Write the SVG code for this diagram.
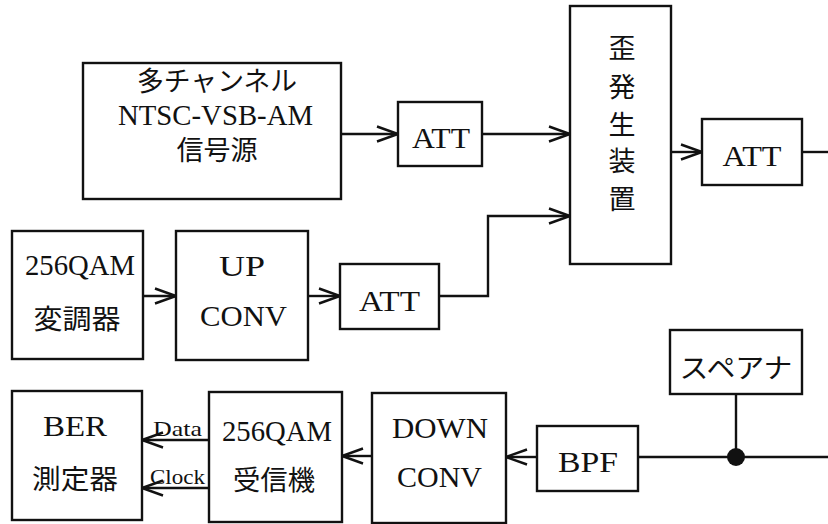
<svg xmlns="http://www.w3.org/2000/svg" width="828" height="524" viewBox="0 0 828 524">
<defs>
<marker id="arr" markerUnits="userSpaceOnUse" markerWidth="26" markerHeight="20" viewBox="-22 -10 24 20" refX="0" refY="0" orient="auto">
<path d="M-21,-7.5 L0,0 L-21,7.5" fill="none" stroke="#111" stroke-width="2.4"/>
</marker>
</defs>
<style>
rect.b{fill:#fff;stroke:#111;stroke-width:2.4}
text{fill:#111;text-anchor:middle}
.l{font-family:"Liberation Serif","Noto Sans CJK JP",serif;font-size:29px}
.j{font-family:"Noto Sans CJK JP","Liberation Serif",serif;font-size:27px}
.s{font-family:"Liberation Serif",serif;font-size:21px}
.c line,.c path{fill:none;stroke:#111;stroke-width:2.4}
</style>
<rect width="828" height="524" fill="#fff"/>
<g class="c" id="connectors">
<line x1="341" y1="134" x2="398" y2="134" marker-end="url(#arr)"/>
<line x1="482" y1="134" x2="570" y2="134" marker-end="url(#arr)"/>
<line x1="143" y1="296" x2="176" y2="296" marker-end="url(#arr)"/>
<line x1="308" y1="296" x2="340" y2="296" marker-end="url(#arr)"/>
<path d="M439,296 H488 V216 H570" marker-end="url(#arr)"/>
<line x1="671" y1="152" x2="702" y2="152" marker-end="url(#arr)"/>
<line x1="802" y1="152" x2="828" y2="152"/>
<line x1="828" y1="457" x2="638" y2="457"/>
<line x1="537" y1="457" x2="506" y2="457" marker-end="url(#arr)"/>
<line x1="372" y1="456" x2="342" y2="456" marker-end="url(#arr)"/>
<line x1="209" y1="440" x2="142" y2="440" marker-end="url(#arr)"/>
<line x1="209" y1="488" x2="142" y2="488" marker-end="url(#arr)"/>
<line x1="736" y1="394" x2="736" y2="457"/>
<circle cx="736" cy="457" r="9" fill="#111" stroke="none"/>
<text class="s" x="177.5" y="436" textLength="49" lengthAdjust="spacingAndGlyphs">Data</text>
<text class="s" x="177.5" y="484" textLength="55" lengthAdjust="spacingAndGlyphs">Clock</text>
</g>
<g id="ntsc">
<rect class="b" x="83" y="63" width="258" height="136"/>
<text class="j" x="217" y="91" textLength="160" lengthAdjust="spacingAndGlyphs">多チャンネル</text>
<text class="l" x="215.5" y="125" textLength="195" lengthAdjust="spacingAndGlyphs">NTSC-VSB-AM</text>
<text class="j" x="217" y="160">信号源</text>
</g>
<g id="att1">
<rect class="b" x="398" y="102" width="84" height="64"/>
<text class="l" x="441" y="148" textLength="58" lengthAdjust="spacingAndGlyphs">ATT</text>
</g>
<g id="distortion">
<rect class="b" x="570" y="6" width="101" height="258"/>
<text class="j" x="622" y="58">歪</text>
<text class="j" x="622" y="97">発</text>
<text class="j" x="622" y="135">生</text>
<text class="j" x="622" y="171">装</text>
<text class="j" x="622" y="209">置</text>
</g>
<g id="att4">
<rect class="b" x="702" y="119" width="100" height="66"/>
<text class="l" x="752" y="166" textLength="59" lengthAdjust="spacingAndGlyphs">ATT</text>
</g>
<g id="mod">
<rect class="b" x="12" y="231" width="131" height="128"/>
<text class="l" x="80" y="275" textLength="110" lengthAdjust="spacingAndGlyphs">256QAM</text>
<text class="j" x="77" y="329" textLength="87" lengthAdjust="spacingAndGlyphs">変調器</text>
</g>
<g id="upconv">
<rect class="b" x="176" y="231" width="132" height="129"/>
<text class="l" x="242" y="276" textLength="46" lengthAdjust="spacingAndGlyphs">UP</text>
<text class="l" x="243.5" y="326" textLength="87" lengthAdjust="spacingAndGlyphs">CONV</text>
</g>
<g id="att3">
<rect class="b" x="340" y="264" width="99" height="65"/>
<text class="l" x="389.5" y="311" textLength="61" lengthAdjust="spacingAndGlyphs">ATT</text>
</g>
<g id="spea">
<rect class="b" x="670" y="330" width="132" height="64"/>
<text class="j" x="736" y="378" textLength="113" lengthAdjust="spacingAndGlyphs">スペアナ</text>
</g>
<g id="bpf">
<rect class="b" x="537" y="426" width="101" height="65"/>
<text class="l" x="588" y="472" textLength="60" lengthAdjust="spacingAndGlyphs">BPF</text>
</g>
<g id="downconv">
<rect class="b" x="372" y="393" width="134" height="130"/>
<text class="l" x="440" y="438" textLength="96" lengthAdjust="spacingAndGlyphs">DOWN</text>
<text class="l" x="439.5" y="487" textLength="85" lengthAdjust="spacingAndGlyphs">CONV</text>
</g>
<g id="receiver">
<rect class="b" x="209" y="392" width="133" height="130"/>
<text class="l" x="277" y="441" textLength="110" lengthAdjust="spacingAndGlyphs">256QAM</text>
<text class="j" x="274" y="490" textLength="82" lengthAdjust="spacingAndGlyphs">受信機</text>
</g>
<g id="ber">
<rect class="b" x="12" y="391" width="130" height="129"/>
<text class="l" x="75" y="436" textLength="64" lengthAdjust="spacingAndGlyphs">BER</text>
<text class="j" x="75" y="489" textLength="86" lengthAdjust="spacingAndGlyphs">測定器</text>
</g>
</svg>
